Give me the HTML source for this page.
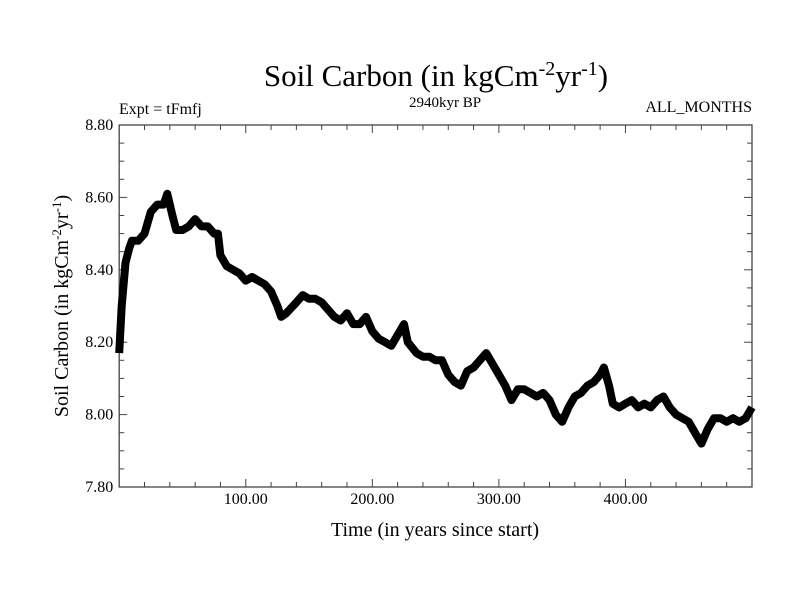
<!DOCTYPE html>
<html><head><meta charset="utf-8"><style>
body{margin:0;background:#fff}
svg{display:block;font-family:"Liberation Serif",serif}
</style></head><body>
<svg width="800" height="600" xmlns="http://www.w3.org/2000/svg">
<text x="436" y="86" font-size="31" text-anchor="middle">Soil Carbon (in kgCm<tspan dy="-11" font-size="20">-2</tspan><tspan dy="11">yr</tspan><tspan dy="-11" font-size="20">-1</tspan><tspan dy="11">)</tspan></text>
<text x="119" y="114" font-size="16">Expt = tFmfj</text>
<text x="445" y="107" font-size="15" text-anchor="middle">2940kyr BP</text>
<text x="752" y="112" font-size="16" text-anchor="end">ALL_MONTHS</text>
<g id="axes"></g>
<path id="line" fill="none" stroke="#000" stroke-width="8" stroke-linejoin="round"/>
<text x="435" y="536" font-size="20" text-anchor="middle">Time (in years since start)</text>
<text transform="translate(68,306) rotate(-90)" font-size="20" text-anchor="middle">Soil Carbon (in kgCm<tspan dy="-7" font-size="13">-2</tspan><tspan dy="7">yr</tspan><tspan dy="-7" font-size="13">-1</tspan><tspan dy="7">)</tspan></text>
</svg>
<script>
const years=[0,2,5,8,10,15,20,25,30,35,38,42,45,50,55,60,65,70,75,78,80,85,90,95,100,105,110,115,120,125,128,132,140,145,150,155,160,165,170,175,180,185,190,195,200,205,210,215,220,225,228,235,240,245,250,255,260,265,270,275,280,285,290,295,300,305,310,315,320,325,330,335,340,345,350,355,360,365,370,375,380,383,387,390,395,400,405,410,415,420,425,430,435,440,445,450,455,460,465,470,475,480,485,490,495,500];
const carbon=[8.17,8.30,8.42,8.46,8.48,8.48,8.50,8.56,8.58,8.58,8.61,8.55,8.51,8.51,8.52,8.54,8.52,8.52,8.50,8.50,8.44,8.41,8.40,8.39,8.37,8.38,8.37,8.36,8.34,8.30,8.27,8.28,8.31,8.33,8.32,8.32,8.31,8.29,8.27,8.26,8.28,8.25,8.25,8.27,8.23,8.21,8.20,8.19,8.22,8.25,8.20,8.17,8.16,8.16,8.15,8.15,8.11,8.09,8.08,8.12,8.13,8.15,8.17,8.14,8.11,8.08,8.04,8.07,8.07,8.06,8.05,8.06,8.04,8.00,7.98,8.02,8.05,8.06,8.08,8.09,8.11,8.13,8.08,8.03,8.02,8.03,8.04,8.02,8.03,8.02,8.04,8.05,8.02,8.00,7.99,7.98,7.95,7.92,7.96,7.99,7.99,7.98,7.99,7.98,7.99,8.02];
const xTicks=[100,200,300,400];
const xTickLabels=["100.00","200.00","300.00","400.00"];
const yTicks=[7.8,8.0,8.2,8.4,8.6,8.8];
const yTickLabels=["7.80","8.00","8.20","8.40","8.60","8.80"];
const L=119.2,R=752,T=125,B=487,X0=0,X1=500,Y0=7.8,Y1=8.8;
const sx=v=>L+(v-X0)/(X1-X0)*(R-L);
const sy=v=>B-(v-Y0)/(Y1-Y0)*(B-T);
const NS="http://www.w3.org/2000/svg";
const g=document.getElementById('axes');
function add(tag,attrs,txt){const e=document.createElementNS(NS,tag);for(const k in attrs)e.setAttribute(k,attrs[k]);if(txt!==undefined)e.textContent=txt;g.appendChild(e);return e;}
const fr=add('rect',{x:L,y:T,width:R-L,height:B-T,fill:'none',stroke:'#444','stroke-width':1.3});


for(let v=20;v<X1;v+=20){const x=sx(v);const major=v%100===0;const len=major?8:5;
 const t1=add('line',{x1:x,y1:B,x2:x,y2:B-len,stroke:'#444'});
 
 
 const t2=add('line',{x1:x,y1:T,x2:x,y2:T+len,stroke:'#444'});
 
 }
for(let i=1;i<20;i++){const v=Y0+i*0.05;const y=sy(v);const major=i%4===0;const len=major?8:5;
 const t1=add('line',{x1:L,y1:y,x2:L+len,y2:y,stroke:'#444'});
 
 
 const t2=add('line',{x1:R,y1:y,x2:R-len,y2:y,stroke:'#444'});
 
 }
xTicks.forEach((v,i)=>{const t=add('text',{x:sx(v),y:B+17,'font-size':16,'text-anchor':'middle'},xTickLabels[i]);
 
 });
yTicks.forEach((v,i)=>{const t=add('text',{x:L-6,y:sy(v)+5,'font-size':16,'text-anchor':'end'},yTickLabels[i]);
 
 });
document.getElementById('line').setAttribute('d',years.map((y,i)=>(i?'L':'M')+sx(y).toFixed(1)+','+sy(carbon[i]).toFixed(1)).join(''));
</script>
</body></html>
